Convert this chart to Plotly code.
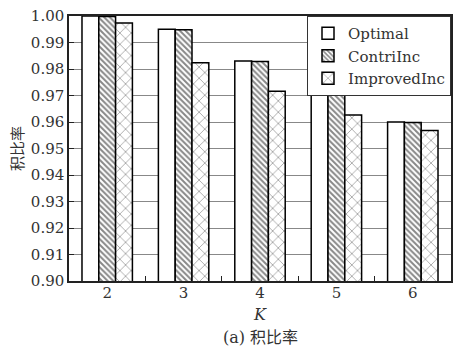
import plotly.graph_objects as go

categories = ["2", "3", "4", "5", "6"]
optimal = [1.000, 0.995, 0.983, 0.9705, 0.960]
contri_inc = [0.9998, 0.9948, 0.9828, 0.9703, 0.9598]
improved_inc = [0.9974, 0.9824, 0.9716, 0.9626, 0.9568]
y_ticks = [0.90, 0.91, 0.92, 0.93, 0.94, 0.95, 0.96, 0.97, 0.98, 0.99, 1.00]

SERIF = "DejaVu Serif"
TXT = "#333333"

fig = go.Figure()
fig.add_trace(go.Bar(
    x=categories, y=optimal, name="Optimal",
    marker=dict(color="white", line=dict(color="black", width=1.5)),
))
fig.add_trace(go.Bar(
    x=categories, y=contri_inc, name="ContriInc",
    marker=dict(color="white", line=dict(color="black", width=1.5),
                pattern=dict(shape="\\", fgcolor="#111111", bgcolor="white",
                             size=4, solidity=0.5)),
))
fig.add_trace(go.Bar(
    x=categories, y=improved_inc, name="ImprovedInc",
    marker=dict(color="white", line=dict(color="black", width=1.5),
                pattern=dict(shape="x", fgcolor="#555555", bgcolor="white",
                             size=8, solidity=0.22)),
))

fig.update_layout(
    width=454, height=349,
    margin=dict(l=69, r=1, t=16, b=68),
    barmode="group", bargap=0.34, bargroupgap=0,
    paper_bgcolor="white", plot_bgcolor="white",
    font=dict(family=SERIF, size=15, color=TXT),
    showlegend=True,
    legend=dict(x=1, y=1, xanchor="right", yanchor="top",
                bgcolor="white", bordercolor="#333333", borderwidth=1,
                font=dict(family=SERIF, size=15, color=TXT),
                tracegroupgap=0, itemwidth=30),
    xaxis=dict(
        type="category", showline=True, linecolor="#222222", linewidth=1.5,
        mirror=True, ticks="inside", tickson="boundaries", ticklen=5,
        tickcolor="#222222", showgrid=False, ticklabelstandoff=-3,
        tickfont=dict(family=SERIF, size=15, color=TXT),
    ),
    yaxis=dict(
        range=[0.90, 1.00], tickvals=y_ticks, tickformat=".2f",
        showline=True, linecolor="#222222", linewidth=1.5, mirror=True,
        ticks="inside", ticklen=5, tickcolor="#222222",
        showgrid=True, gridcolor="#888888", gridwidth=1,
        tickfont=dict(family=SERIF, size=15, color=TXT),
        title=dict(text="积比率", font=dict(family="Noto Sans CJK SC", size=15, color=TXT),
                   standoff=4),
    ),
    annotations=[
        dict(text="<i>K</i>", xref="paper", yref="paper", x=0.5, y=0,
             yshift=-33, xanchor="center", yanchor="middle", showarrow=False,
             font=dict(family=SERIF, size=16, color=TXT)),
        dict(text="(a) 积比率", xref="paper", yref="paper", x=0.5, y=0,
             yshift=-56, xanchor="center", yanchor="middle", showarrow=False,
             font=dict(family=SERIF + ", Noto Sans CJK SC", size=16, color=TXT)),
    ],
)

fig.write_html("out.html")
